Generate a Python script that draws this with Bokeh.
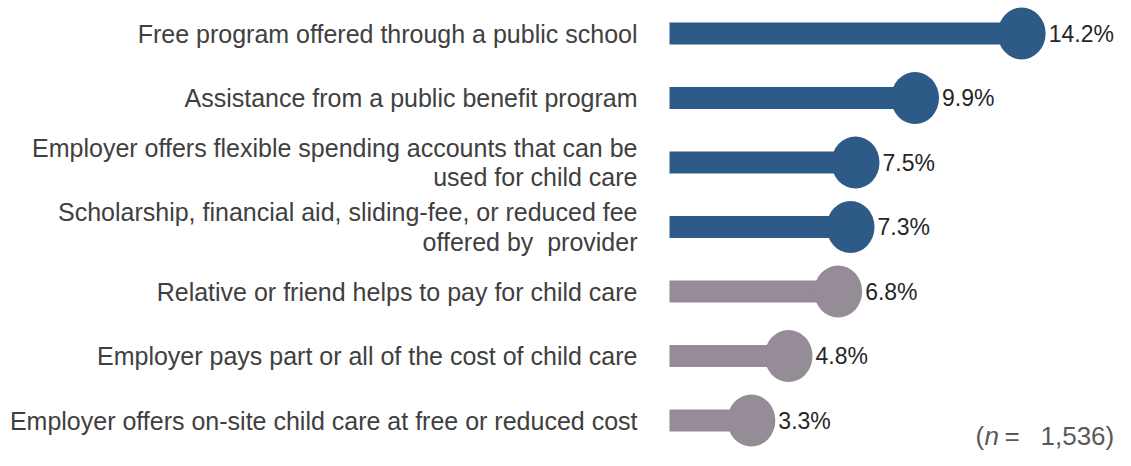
from bokeh.plotting import figure
from bokeh.models import ColumnDataSource, Range1d, Label
from bokeh.core.properties import value
from bokeh.embed import file_html
from bokeh.resources import INLINE

# ---- data ----
categories = [
    "Free program offered through a public school",
    "Assistance from a public benefit program",
    "Employer offers flexible spending accounts that can be\nused for child care",
    "Scholarship, financial aid, sliding-fee, or reduced fee\noffered by\u00a0 provider",
    "Relative or friend helps to pay for child care",
    "Employer pays part or all of the cost of child care",
    "Employer offers on-site child care at free or reduced cost",
]
values = [14.2, 9.9, 7.5, 7.3, 6.8, 4.8, 3.3]
groups = ["highlight", "highlight", "highlight", "highlight", "other", "other", "other"]
value_labels = ["14.2%", "9.9%", "7.5%", "7.3%", "6.8%", "4.8%", "3.3%"]
sample_size = "1,536"

BLUE = "#2E5A87"
GREY = "#958C97"
colors = [BLUE if g == "highlight" else GREY for g in groups]
rows = list(range(len(categories)))

src = ColumnDataSource(dict(row=rows, value=values, cat=categories,
                            vlabel=value_labels, color=colors))

FONT = value("Liberation Sans")

W, H = 1115, 450
X0, XS = 669, 24.8      # pixel of zero, pixels per percent
Y0, YS = 33, 64.5       # pixel of first row, pixels per row

p = figure(width=W, height=H,
           x_range=Range1d(-X0 / XS, (W - X0) / XS),
           y_range=Range1d((H - Y0) / YS, -Y0 / YS),
           output_backend="svg", toolbar_location=None, min_border=0)
p.axis.visible = False
p.grid.visible = False
p.outline_line_color = None
p.background_fill_color = "white"
p.border_fill_color = "white"

p.hbar(y="row", left=0, right="value", height=22 / YS, fill_color="color",
       line_color=None, source=src)
p.ellipse(x="value", y="row", width=48, height=52, width_units="screen",
          height_units="screen", fill_color="color", line_color=None, source=src)

p.text(x=0, y="row", text="cat", x_offset=-32, text_align="right",
       text_baseline="middle", text_font=FONT, text_font_size="25px",
       text_color="#404040", text_line_height=1.05, source=src)

p.text(x="value", y="row", text="vlabel", x_offset=27, text_align="left",
       text_baseline="middle", text_font=FONT, text_font_size="23px",
       text_color="#262626", source=src)

# sample-size note with italic n
note_y = 15
common = dict(y=note_y, x_units="screen", y_units="screen",
              text_font="Liberation Sans", text_font_size="26px",
              text_color="#595959", text_baseline="alphabetic")
p.add_layout(Label(x=975, text="(", **common))
p.add_layout(Label(x=984, text="n", text_font_style="italic", **common))
p.add_layout(Label(x=1004, text="=", **common))
p.add_layout(Label(x=1040, text=sample_size + ")", **common))

open("out.html", "w").write(file_html(p, INLINE))
